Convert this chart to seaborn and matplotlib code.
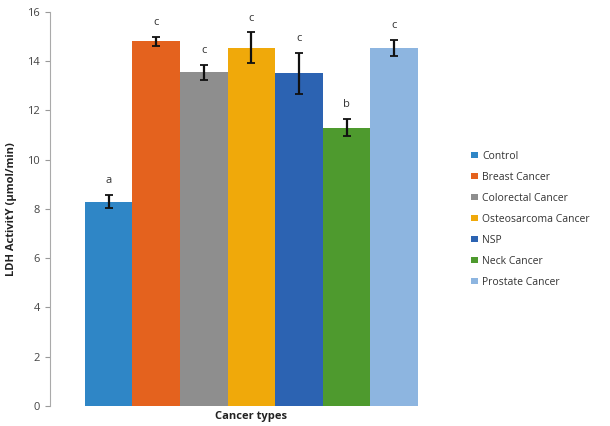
import matplotlib
matplotlib.use("Agg")
import matplotlib.pyplot as plt
import seaborn as sns
import pandas as pd

categories = ["Control", "Breast Cancer", "Colorectal Cancer", "Osteosarcoma Cancer",
              "NSP", "Neck Cancer", "Prostate Cancer"]
ldh_activity = [8.3, 14.8, 13.55, 14.55, 13.5, 11.3, 14.55]
errors = [0.28, 0.2, 0.3, 0.62, 0.85, 0.35, 0.33]
letters = ["a", "c", "c", "c", "c", "b", "c"]
colors = ["#2F86C6", "#E4621E", "#8E8E8E", "#F0A90A", "#2C63B2", "#4E9A2E", "#8DB5E0"]
yticks = [0, 2, 4, 6, 8, 10, 12, 14, 16]

df = pd.DataFrame({"Cancer": categories, "LDH": ldh_activity})

sns.set_style("white")
plt.rcParams["font.family"] = ["Open Sans", "DejaVu Sans"]

fig = plt.figure(figsize=(6.10, 4.26), dpi=100)
ax = fig.add_axes([0.082, 0.047, 0.607, 0.925])

sns.barplot(data=df, x="Cancer", y="LDH", hue="Cancer", palette=colors,
            width=1.0, dodge=False, legend=True, ax=ax, saturation=1, errorbar=None,
            linewidth=0, edgecolor="none")

xs = list(range(len(categories)))
ax.errorbar(xs, ldh_activity, yerr=errors, fmt="none", ecolor="#111111",
            elinewidth=1.6, capsize=3, capthick=1.3, zorder=5)
for x, v, e, lab in zip(xs, ldh_activity, errors, letters):
    ax.text(x, v + e + 0.35, lab, ha="center", va="bottom", fontsize=8, color="#333333")

ax.set_ylim(0, 16)
ax.set_xlim(-1.23, 6.55)
ax.set_yticks(yticks)
ax.set_yticklabels([str(t) for t in yticks], fontsize=8, color="#444444")
ax.set_xticks([])
ax.tick_params(axis="y", length=3.6, color="#999999", direction="out", left=True, pad=3.5)
for side in ["top", "right", "bottom"]:
    ax.spines[side].set_visible(False)
ax.spines["left"].set_color("#aaaaaa")
ax.spines["left"].set_linewidth(0.8)

ax.set_xlabel("Cancer types", fontsize=8, fontweight="bold", color="#222222")
ax.xaxis.set_label_coords(0.543, -0.012)
ax.xaxis.label.set_va("top")
ax.set_ylabel("LDH ActivitY (µmol/min)", fontsize=8, fontweight="bold", color="#222222")
ax.yaxis.set_label_coords(-0.088, 0.5)

leg = ax.legend(loc="upper left", bbox_to_anchor=(0.765, 0.655), bbox_transform=fig.transFigure,
                frameon=False, fontsize=7.5, handlelength=0.7, handleheight=0.5,
                handletextpad=0.4, labelspacing=0.95, borderaxespad=0)
for t in leg.get_texts():
    t.set_color("#333333")

fig.savefig("out.png", dpi=100)
